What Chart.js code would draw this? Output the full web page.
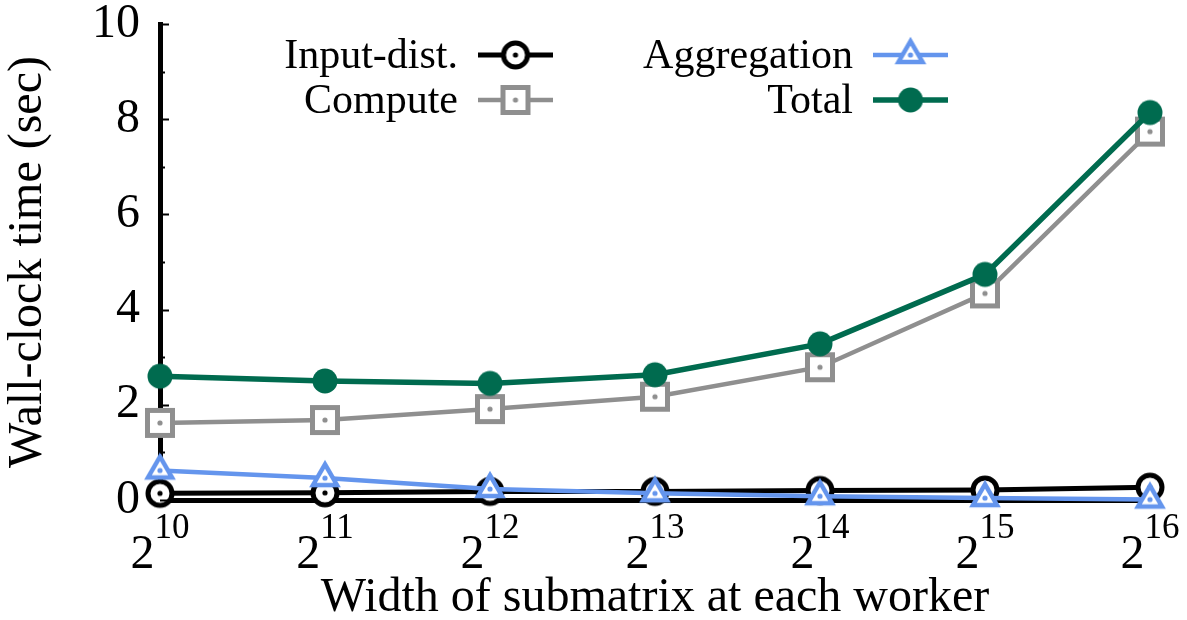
<!DOCTYPE html>
<html>
<head>
<meta charset="utf-8">
<script src="https://cdn.jsdelivr.net/npm/chart.js@4.4.1/dist/chart.umd.min.js"></script>
<style>
  html, body { margin: 0; padding: 0; background: #fff; }
  #wrap { width: 1187px; height: 620px; position: relative; }
</style>
</head>
<body>
<div id="wrap"><canvas id="chart"></canvas></div>
<script>
// Submatrix width exponents (width = 2^e)
const exponents = [10, 11, 12, 13, 14, 15, 16];
const categories = exponents.map(e => '2^' + e);

// Wall-clock time per phase, in seconds
const inputDist   = [0.14, 0.15, 0.18, 0.18, 0.20, 0.21, 0.27];
const compute     = [1.62, 1.68, 1.91, 2.17, 2.79, 4.34, 7.74];
const aggregation = [0.62, 0.46, 0.23, 0.14, 0.08, 0.04, 0.01];
const total       = [2.60, 2.50, 2.45, 2.63, 3.28, 4.74, 8.14];

const seriesNames = ['Input-dist.', 'Compute', 'Aggregation', 'Total'];
const yTicks = [0, 2, 4, 6, 8, 10];

const SERIF = '"Liberation Serif", "DejaVu Serif", serif';
const COLORS = { input: '#000000', compute: '#8f8f8f', agg: '#6495ed', total: '#006b4f' };

// Marker sprites: hollow symbols with a centre dot, and a filled disc
function makeMarker(kind, color) {
  const c = document.createElement('canvas');
  const ctx = c.getContext('2d');
  if (kind === 'circle') {
    c.width = 34; c.height = 34;
    ctx.beginPath(); ctx.arc(17, 17, 12, 0, Math.PI * 2);
    ctx.fillStyle = '#fff'; ctx.fill();
    ctx.lineWidth = 5; ctx.strokeStyle = color; ctx.stroke();
    ctx.beginPath(); ctx.arc(17, 17, 2.6, 0, Math.PI * 2);
    ctx.fillStyle = color; ctx.fill();
  } else if (kind === 'square') {
    c.width = 34; c.height = 34;
    ctx.fillStyle = '#fff'; ctx.fillRect(4.5, 4.5, 25, 25);
    ctx.lineWidth = 5; ctx.strokeStyle = color; ctx.strokeRect(4.5, 4.5, 25, 25);
    ctx.beginPath(); ctx.arc(17, 17, 2.6, 0, Math.PI * 2);
    ctx.fillStyle = color; ctx.fill();
  } else if (kind === 'triangle') {
    c.width = 40; c.height = 44;
    const cx = 20, cy = 22, side = 24, h = side * Math.sqrt(3) / 2;
    ctx.beginPath();
    ctx.moveTo(cx, cy - 2 * h / 3);
    ctx.lineTo(cx + side / 2, cy + h / 3);
    ctx.lineTo(cx - side / 2, cy + h / 3);
    ctx.closePath();
    ctx.fillStyle = '#fff'; ctx.fill();
    ctx.lineWidth = 4.5; ctx.lineJoin = 'miter'; ctx.strokeStyle = color; ctx.stroke();
    ctx.beginPath(); ctx.arc(cx, cy, 2.6, 0, Math.PI * 2);
    ctx.fillStyle = color; ctx.fill();
  } else {
    c.width = 30; c.height = 30;
    ctx.beginPath(); ctx.arc(15, 15, 12.5, 0, Math.PI * 2);
    ctx.fillStyle = color; ctx.fill();
  }
  return c;
}

const markers = [
  makeMarker('circle', COLORS.input),
  makeMarker('square', COLORS.compute),
  makeMarker('triangle', COLORS.agg),
  makeMarker('disc', COLORS.total)
];

// Inward major/minor tick marks on the value axis
const yTickMarks = {
  id: 'yTickMarks',
  afterDraw(chart) {
    const ys = chart.scales.y, ctx = chart.ctx;
    const x0 = chart.chartArea.left;
    ctx.save();
    ctx.strokeStyle = '#000';
    ctx.lineWidth = 2;
    for (let v = 0; v <= 10; v++) {
      const y = Math.round(ys.getPixelForValue(v)) + 0.5;
      const len = v % 2 === 0 ? 9 : 5;
      ctx.beginPath(); ctx.moveTo(x0, y); ctx.lineTo(x0 + len, y); ctx.stroke();
    }
    ctx.restore();
  }
};

// Power-of-two category labels with superscript exponents
const powerLabels = {
  id: 'powerLabels',
  afterDraw(chart) {
    const xs = chart.scales.x, ctx = chart.ctx;
    ctx.save();
    ctx.fillStyle = '#000';
    ctx.textBaseline = 'alphabetic';
    exponents.forEach((e, i) => {
      const x = xs.getPixelForValue(i);
      ctx.font = '48px ' + SERIF;
      const wb = ctx.measureText('2').width;
      ctx.font = '35px ' + SERIF;
      const we = ctx.measureText(String(e)).width;
      const start = x - (wb + we) / 2;
      ctx.font = '48px ' + SERIF;
      ctx.textAlign = 'left';
      ctx.fillText('2', start, 568);
      ctx.font = '35px ' + SERIF;
      ctx.fillText(String(e), start + wb, 538);
    });
    ctx.restore();
  }
};

// Two-column key: right-aligned name followed by a line sample with its marker
const keyLayout = [
  { ds: 0, textRight: 458, x0: 478, x1: 553, y: 55 },
  { ds: 1, textRight: 458, x0: 478, x1: 553, y: 100 },
  { ds: 2, textRight: 853, x0: 873, x1: 948, y: 55 },
  { ds: 3, textRight: 853, x0: 873, x1: 948, y: 100 }
];
const sideKey = {
  id: 'sideKey',
  afterDraw(chart) {
    const ctx = chart.ctx;
    ctx.save();
    keyLayout.forEach(k => {
      const ds = chart.data.datasets[k.ds];
      ctx.font = '42px ' + SERIF;
      ctx.fillStyle = '#000';
      ctx.textAlign = 'right';
      ctx.textBaseline = 'middle';
      ctx.fillText(ds.label, k.textRight, k.y + 2);
      ctx.strokeStyle = ds.borderColor;
      ctx.lineWidth = ds.borderWidth;
      ctx.beginPath(); ctx.moveTo(k.x0, k.y); ctx.lineTo(k.x1, k.y); ctx.stroke();
      const m = ds.pointStyle;
      ctx.drawImage(m, (k.x0 + k.x1) / 2 - m.width / 2, k.y - m.height / 2);
    });
    ctx.restore();
  }
};

function series(i, data, color, width, order) {
  return {
    label: seriesNames[i],
    data: data,
    borderColor: color,
    backgroundColor: color,
    borderWidth: width,
    pointStyle: markers[i],
    pointRadius: 14,
    pointHoverRadius: 14,
    tension: 0,
    clip: false,
    order: order
  };
}

new Chart(document.getElementById('chart'), {
  type: 'line',
  data: {
    labels: categories,
    datasets: [
      series(0, inputDist, COLORS.input, 5, 4),
      series(1, compute, COLORS.compute, 4.5, 3),
      series(2, aggregation, COLORS.agg, 4.5, 2),
      series(3, total, COLORS.total, 5.5, 1)
    ]
  },
  options: {
    responsive: true,
    maintainAspectRatio: false,
    animation: false,
    events: [],
    layout: { padding: { top: 24, right: 37, bottom: 0, left: 0 } },
    plugins: {
      legend: { display: false },
      tooltip: { enabled: false }
    },
    scales: {
      x: {
        type: 'category',
        offset: false,
        z: 1,
        grid: { display: false, drawTicks: false },
        border: { display: true, color: '#000', width: 5 },
        ticks: { display: false },
        title: {
          display: true,
          text: 'Width of submatrix at each worker',
          color: '#000',
          font: { family: SERIF, size: 48, lineHeight: 0.9 },
          padding: { top: 0, bottom: 0 }
        },
        afterFit(scale) {
          scale.height = 120;
          scale.paddingLeft = 0; scale.paddingRight = 0;
        }
      },
      y: {
        min: 0,
        max: 10,
        z: 1,
        afterBuildTicks(scale) { scale.ticks = yTicks.map(v => ({ value: v })); },
        grid: { display: false, drawTicks: false },
        border: { display: true, color: '#000', width: 5 },
        ticks: {
          color: '#000',
          padding: 20,
          font: { family: SERIF, size: 48 }
        },
        title: {
          display: true,
          text: 'Wall-clock time (sec)',
          color: '#000',
          font: { family: SERIF, size: 48, lineHeight: 1.2 },
          padding: { top: 0, bottom: 0 }
        },
        afterFit(scale) {
          scale.width = 160;
          scale.paddingTop = 0; scale.paddingBottom = 0;
        }
      }
    }
  },
  plugins: [yTickMarks, powerLabels, sideKey]
});
</script>
</body>
</html>
